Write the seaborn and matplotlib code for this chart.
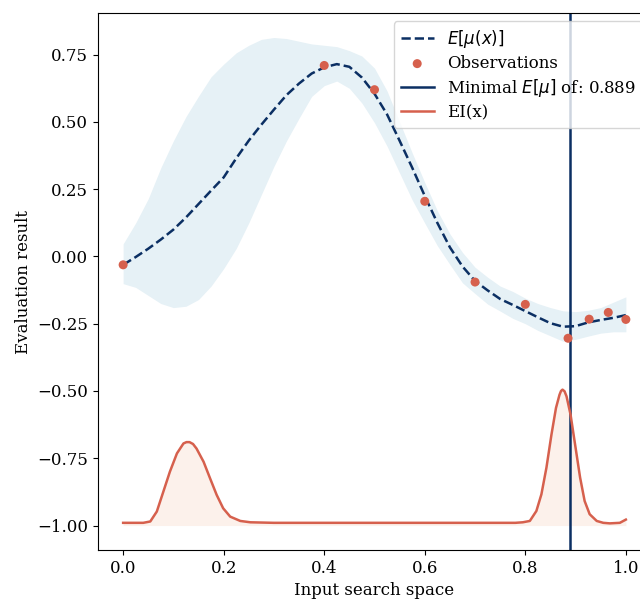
import numpy as np
import pandas as pd
import matplotlib
matplotlib.use("Agg")
import matplotlib.pyplot as plt
import seaborn as sns

# ---- data ----
grid_x = [0.000, 0.025, 0.050, 0.075, 0.100, 0.125, 0.150, 0.175, 0.200, 0.225,
          0.250, 0.275, 0.300, 0.325, 0.350, 0.375, 0.400, 0.425, 0.450, 0.475,
          0.500, 0.525, 0.550, 0.575, 0.600, 0.625, 0.650, 0.675, 0.700, 0.725,
          0.750, 0.775, 0.800, 0.825, 0.850, 0.875, 0.900, 0.925, 0.950, 0.975, 1.000]
mean_mu = [-0.031, -0.002, 0.029, 0.063, 0.100, 0.145, 0.195, 0.245, 0.294, 0.365,
           0.431, 0.490, 0.546, 0.600, 0.643, 0.680, 0.703, 0.715, 0.705, 0.665,
           0.605, 0.528, 0.430, 0.330, 0.225, 0.125, 0.034, -0.037, -0.091, -0.126,
           -0.158, -0.180, -0.203, -0.226, -0.248, -0.261, -0.259, -0.245, -0.236, -0.228, -0.218]
band_upper = [0.047, 0.125, 0.215, 0.330, 0.430, 0.520, 0.596, 0.668, 0.715, 0.757,
              0.785, 0.807, 0.814, 0.810, 0.800, 0.790, 0.785, 0.780, 0.765, 0.745,
              0.700, 0.615, 0.500, 0.385, 0.275, 0.170, 0.084, 0.015, -0.040, -0.077,
              -0.110, -0.130, -0.155, -0.175, -0.190, -0.202, -0.205, -0.200, -0.190, -0.170, -0.150]
band_lower = [-0.101, -0.115, -0.145, -0.175, -0.190, -0.185, -0.160, -0.110, -0.045, 0.030,
              0.125, 0.230, 0.335, 0.430, 0.514, 0.595, 0.635, 0.652, 0.625, 0.570,
              0.497, 0.410, 0.310, 0.210, 0.124, 0.040, -0.030, -0.098, -0.138, -0.177,
              -0.203, -0.230, -0.250, -0.275, -0.295, -0.315, -0.308, -0.296, -0.285, -0.280, -0.280]

obs_x = [0.0, 0.4, 0.5, 0.6, 0.7, 0.8, 0.885, 0.927, 0.965, 1.0]
obs_y = [-0.031, 0.710, 0.620, 0.205, -0.095, -0.178, -0.304, -0.233, -0.208, -0.234]

ei_x = [0.000, 0.040, 0.054, 0.067, 0.080, 0.093, 0.107, 0.120, 0.126, 0.132, 0.139, 0.146, 0.160,
        0.173, 0.186, 0.199, 0.213, 0.233, 0.253, 0.300, 0.400, 0.500, 0.600, 0.700,
        0.780, 0.795, 0.809, 0.822, 0.832, 0.842, 0.852, 0.861, 0.868, 0.871, 0.874, 0.878, 0.882,
        0.890, 0.899, 0.909, 0.918, 0.928, 0.942, 0.955, 0.968, 0.988, 1.000]
ei_y = [-0.990, -0.990, -0.985, -0.948, -0.874, -0.800, -0.732, -0.695, -0.690, -0.690, -0.697,
        -0.714, -0.763, -0.825, -0.886, -0.936, -0.967, -0.983, -0.988, -0.990, -0.990, -0.990,
        -0.990, -0.990, -0.990, -0.988, -0.983, -0.946, -0.884, -0.785, -0.662, -0.563, -0.514,
        -0.500, -0.495, -0.501, -0.520, -0.588, -0.699, -0.822, -0.909, -0.958, -0.983, -0.990,
        -0.992, -0.990, -0.978]
ei_base = -1.0

min_x = 0.889
min_label = "Minimal $E[\\mu]$ of: 0.889"

# ---- style ----
plt.rcParams["font.family"] = ["DejaVu Serif"]
plt.rcParams["mathtext.fontset"] = "dejavusans"
plt.rcParams["font.size"] = 12

NAVY = "#0b2f63"
RED = "#d6604d"
BAND = "#e6f1f6"
EIFILL = "#fcf1eb"

fig = plt.figure(figsize=(6.4, 6.04), dpi=100)
ax = fig.add_axes([98 / 640, 1 - 550 / 604, 553 / 640, 537 / 604])

df_gp = pd.DataFrame({"x": grid_x, "mean": mean_mu, "lo": band_lower, "hi": band_upper})
df_obs = pd.DataFrame({"x": obs_x, "y": obs_y})
df_ei = pd.DataFrame({"x": ei_x, "ei": ei_y})

ax.fill_between(df_gp["x"], df_gp["lo"], df_gp["hi"], color=BAND, lw=0)
ax.fill_between(df_ei["x"], ei_base, df_ei["ei"], color=EIFILL, lw=0)

sns.lineplot(data=df_gp, x="x", y="mean", ax=ax, color=NAVY, lw=1.8,
             linestyle="--", label="$E[\\mu(x)]$")
sns.scatterplot(data=df_obs, x="x", y="y", ax=ax, color=RED, s=42,
                edgecolor="none", label="Observations", zorder=3)
ax.axvline(min_x, color=NAVY, lw=1.8, label=min_label)
sns.lineplot(data=df_ei, x="x", y="ei", ax=ax, color=RED, lw=1.8, label="EI(x)")

ax.set_xlim(-0.05, 1.05)
ax.set_ylim(-1.091, 0.905)
ax.set_xticks([0.0, 0.2, 0.4, 0.6, 0.8, 1.0])
ax.set_yticks([-1.0, -0.75, -0.5, -0.25, 0.0, 0.25, 0.5, 0.75])
ax.set_xlabel("Input search space")
ax.set_ylabel("Evaluation result")

handles, labels = ax.get_legend_handles_labels()
order = ["$E[\\mu(x)]$", "Observations", min_label, "EI(x)"]
hmap = dict(zip(labels, handles))
ax.legend([hmap[l] for l in order], order, loc="upper right", labelspacing=0.3)

fig.savefig("out.png", dpi=100)
